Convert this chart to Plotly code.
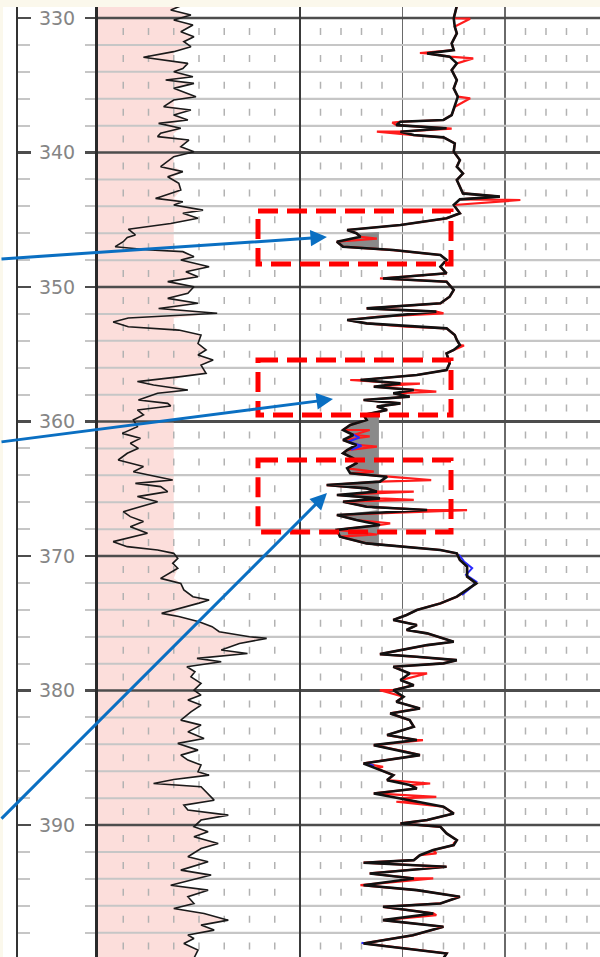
import numpy as np
import plotly.graph_objects as go

# ---------------- data ----------------
gr_depth = [329.1, 329.40, 329.78, 330.15, 330.52, 331.02, 331.39, 331.76, 332.13, 332.50, 332.92, 333.25,
            333.37, 333.75, 334.00, 334.36, 334.61, 334.86, 335.23, 335.85, 336.10, 336.59, 336.84, 337.21,
            337.58, 337.83, 338.20, 338.57, 338.82, 339.07, 339.57, 339.94, 340.31, 341.05, 341.42, 341.80,
            342.29, 342.79, 343.41, 343.66, 343.90, 344.28, 344.52, 344.89, 345.27, 345.70, 346.13, 346.31,
            346.63, 347.00, 347.25, 347.37, 347.74, 347.99, 348.49, 348.86, 349.23, 349.60, 349.98, 350.47,
            350.84, 351.20, 351.60, 351.95, 352.30, 352.60, 352.95, 353.20, 353.57, 354.20, 354.68, 355.05,
            355.42, 355.80, 356.42, 356.66, 357.03, 357.28, 357.65, 357.90, 358.40, 358.65, 358.84, 359.14,
            359.51, 359.88, 360.38, 360.88, 361.25, 361.62, 361.99, 362.36, 362.86, 363.35, 363.73, 364.35,
            364.60, 364.84, 365.21, 365.58, 365.96, 366.70, 367.07, 367.44, 367.82, 368.31, 368.68, 368.93,
            369.30, 369.55, 369.80, 370.17, 370.54, 370.91, 371.66, 372.03, 372.52, 373.02, 373.27, 373.50,
            374.26, 374.50, 374.88, 375.25, 375.63, 376.00, 376.12, 376.50, 376.99, 377.24, 377.61, 377.86,
            378.23, 378.60, 378.98, 379.47, 379.97, 380.34, 380.71, 381.08, 381.58, 382.20, 382.57, 383.07,
            383.56, 383.93, 384.43, 384.80, 385.17, 385.54, 386.04, 386.29, 386.61, 386.91, 387.15, 387.65,
            388.15, 388.52, 388.89, 389.26, 389.63, 390.13, 390.50, 390.87, 391.37, 391.74, 392.36, 392.73,
            393.35, 393.72, 394.09, 394.47, 394.84, 395.33, 395.83, 396.20, 396.57, 397.07, 397.44, 397.81,
            398.18, 398.43, 398.80, 399.30, 399.90]
gr_value = [82, 72, 92, 75, 94, 82, 95, 85, 92, 75, 45, 75,
            89, 84, 75, 94, 67, 95, 75, 97, 75, 65, 92, 75,
            89, 60, 82, 62, 59, 90, 82, 95, 75, 62, 84, 69,
            80, 82, 57, 84, 75, 104, 84, 99, 72, 30, 37, 29,
            25, 17, 52, 84, 95, 82, 110, 87, 99, 69, 95, 89,
            69, 99, 60, 118, 30, 15, 30, 80, 102, 99, 107, 99,
            114, 102, 107, 82, 39, 55, 89, 59, 40, 69, 72, 39,
            45, 35, 39, 24, 42, 32, 40, 29, 20, 45, 35, 74,
            37, 62, 69, 39, 59, 25, 32, 45, 32, 49, 29, 15,
            29, 59, 75, 79, 74, 79, 62, 82, 85, 94, 110, 100,
            63, 80, 100, 113, 120, 150, 167, 140, 122, 148, 98, 122,
            88, 96, 92, 102, 95, 102, 89, 102, 92, 82, 102, 89,
            105, 79, 99, 82, 89, 102, 99, 110, 75, 55, 102, 109,
            115, 85, 89, 129, 102, 95, 109, 95, 119, 102, 89, 109,
            82, 112, 92, 72, 109, 89, 95, 75, 105, 129, 102, 115,
            89, 95, 85, 99, 95]
gr_cutoff = 75

log_depth = [329.10, 330.02, 330.64, 331.14, 331.88, 332.38, 332.63, 332.87, 333.37, 333.87, 334.61, 335.23,
             335.85, 336.59, 337.21, 337.58, 337.71, 337.96, 338.20, 338.45, 338.70, 338.87, 339.32, 339.94,
             340.56, 341.05, 341.55, 342.04, 342.54, 343.04, 343.28, 343.48, 343.90, 344.52, 344.89, 345.39,
             345.76, 346.00, 346.26, 346.63, 347.00, 347.25, 347.62, 347.99, 348.49, 348.98, 349.36, 349.60,
             350.22, 350.72, 351.21, 351.59, 351.83, 352.21, 352.45, 352.70, 353.07, 353.57, 353.94, 354.31,
             354.68, 354.93, 355.67, 356.17, 356.54, 356.91, 357.16, 357.41, 357.65, 357.90, 358.15, 358.40,
             358.65, 358.89, 359.14, 359.51, 359.88, 360.26, 360.63, 361.00, 361.37, 361.74, 362.12, 362.36,
             362.73, 363.10, 363.48, 363.85, 364.10, 364.47, 364.72, 364.97, 365.21, 365.46, 365.71, 365.96,
             366.33, 366.58, 366.95, 367.32, 367.69, 368.06, 368.56, 369.06, 369.55, 369.80, 370.29, 370.79,
             371.53, 372.03, 372.52, 373.02, 373.52, 374.01, 374.38, 374.75, 375.13, 375.50, 375.75, 376.12,
             376.37, 376.62, 376.99, 377.29, 377.49, 377.74, 377.98, 378.23, 378.73, 379.22, 379.60, 379.97,
             380.46, 380.83, 381.33, 381.70, 382.20, 382.69, 383.31, 383.68, 384.06, 384.55, 384.80, 385.42,
             385.79, 386.29, 386.66, 387.03, 387.28, 387.65, 388.02, 388.27, 388.64, 389.14, 389.63, 389.88,
             390.13, 390.62, 391.12, 391.49, 391.86, 392.24, 392.61, 392.80, 393.10, 393.60, 393.97, 394.47,
             394.84, 395.33, 395.83, 396.08, 396.57, 397.07, 397.56, 398.20, 398.80, 399.55, 399.90]
log_value = [153, 150, 151, 153, 148, 150, 124, 146, 153, 148, 153, 150,
             154, 151, 148, 140, 98, 94, 143, 98, 111, 140, 151, 150,
             156, 153, 159, 153, 156, 159, 195, 156, 150, 156, 143, 98,
             46, 55, 59, 36, 42, 91, 137, 143, 137, 143, 81, 143,
             150, 146, 137, 65, 133, 75, 46, 65, 143, 151, 153, 156,
             150, 143, 146, 143, 114, 59, 98, 72, 111, 91, 107, 62,
             98, 75, 85, 62, 65, 49, 42, 52, 42, 55, 46, 42,
             52, 55, 46, 49, 85, 78, 26, 65, 75, 36, 78, 42,
             65, 124, 36, 55, 78, 36, 39, 65, 137, 153, 156, 163,
             163, 172, 163, 153, 137, 114, 104, 91, 114, 104, 124, 140,
             150, 124, 98, 78, 114, 153, 140, 91, 107, 98, 111, 91,
             101, 94, 117, 88, 107, 111, 85, 114, 72, 104, 117, 62,
             75, 91, 85, 107, 114, 72, 98, 114, 140, 150, 124, 98,
             137, 143, 153, 150, 130, 117, 111, 62, 143, 68, 111, 62,
             114, 156, 137, 81, 130, 81, 140, 110, 62, 143, 140]

red_spike_depth = [330.05, 332.60, 333.00, 335.97, 337.78, 338.22, 338.45, 343.53, 346.40, 349.36, 351.96,
                   352.95, 354.35, 356.91, 357.18, 357.77, 360.63, 361.10, 361.87, 363.73, 364.35, 365.21,
                   365.83, 366.58, 367.57, 368.40, 378.73, 379.97, 383.68, 385.67, 386.91, 387.90, 388.27,
                   391.37, 392.11, 393.97, 394.47, 396.70]
red_spike_value = [166, 117, 169, 166, 90, 148, 75, 215, 75, 78, 140,
                   104, 160, 49, 117, 133, 68, 68, 75, 72, 128, 111,
                   111, 163, 88, 75, 124, 78, 120, 81, 127, 133, 94,
                   150, 133, 130, 59, 133]

blue_depth = [360.9, 361.2, 361.5, 361.8, 362.1, None,
              369.9, 370.4, 370.9, 371.4, 371.9, 372.4, 372.9, None,
              385.4, 385.6, None, 398.75, 398.85]
blue_value = [50, 58, 47, 60, 50, None,
              155, 160, 168, 162, 172, 166, 158, None,
              66, 72, None, 60, 66]

pay_top = [345.9, 359.4]
pay_base = [347.15, 369.3]
pay_cutoff = 77

depth_major = [330, 340, 350, 360, 370, 380, 390]
depth_minor = [d for d in range(330, 400, 2) if d % 10 != 0]
track1_grid = [25, 50, 75, 100, 125, 150, 175]
track2_minor = [20, 40, 60, 80, 120, 140, 160, 180, 220, 240, 260, 280]

arrow_depth = [346.28, 358.33, 365.32]
arrow_value = [26.3, 32.2, 26.3]

box_top = [344.35, 355.43, 362.86]
box_base = [348.29, 359.52, 368.22]

# ---------------- styling constants ----------------
Y_TOP, Y_BOT = 329.18, 399.81
PINK = "#fcdedb"
MAJ = "#4d4d4d"
MIN = "#c6c6c6"
DASHC = "#b2b2b2"
DASH = "7px,19.9px"
CREAM = "#fbf8ec"

fig = go.Figure()

def seg_h(vals, x0, x1):
    xs, ys = [], []
    for v in vals:
        xs += [x0, x1, None]
        ys += [v, v, None]
    return xs, ys

def seg_v(vals, y0, y1):
    xs, ys = [], []
    for v in vals:
        xs += [v, v, None]
        ys += [y0, y1, None]
    return xs, ys

# --- track 1: pink shading to max(GR, cutoff)
pink_x = np.maximum(np.array(gr_value, dtype=float), gr_cutoff)
fig.add_trace(go.Scatter(x=pink_x, y=gr_depth, mode="lines", fill="tozerox", fillcolor=PINK,
                         line=dict(width=0), xaxis="x", yaxis="y", hoverinfo="skip", showlegend=False))

# --- grid lines drawn as traces (over the shading)
for axis, xmax, vlist in [("x", 200, track1_grid), ("x2", 292.7, track2_minor)]:
    xs, ys = seg_h(depth_minor, 0, xmax)
    fig.add_trace(go.Scatter(x=xs, y=ys, mode="lines", line=dict(color=MIN, width=2),
                             xaxis=axis, yaxis="y", hoverinfo="skip", showlegend=False))
    xs, ys = seg_v(vlist, 330.74, Y_BOT)
    fig.add_trace(go.Scatter(x=xs, y=ys, mode="lines", line=dict(color=DASHC, width=1.5, dash=DASH),
                             xaxis=axis, yaxis="y", hoverinfo="skip", showlegend=False))
    xs, ys = seg_h(depth_major, 0, xmax)
    fig.add_trace(go.Scatter(x=xs, y=ys, mode="lines", line=dict(color=MAJ, width=2.5),
                             xaxis=axis, yaxis="y", hoverinfo="skip", showlegend=False))

# --- GR curve
fig.add_trace(go.Scatter(x=gr_value, y=gr_depth, mode="lines", line=dict(color="#1a1a1a", width=1.6),
                         xaxis="x", yaxis="y", hoverinfo="skip", showlegend=False))

# --- grey pay shading in track 2
for top, base in zip(pay_top, pay_base):
    idx = [i for i, d in enumerate(log_depth) if top <= d <= base]
    xs = [pay_cutoff] + [min(log_value[i], pay_cutoff) for i in idx] + [pay_cutoff]
    ys = [top] + [log_depth[i] for i in idx] + [base]
    fig.add_trace(go.Scatter(x=xs, y=ys, mode="lines", fill="toself", fillcolor="#8a8a8a",
                             line=dict(width=0), xaxis="x2", yaxis="y", hoverinfo="skip", showlegend=False))

# --- red curve (black curve points plus its own spikes)
red_pairs = sorted(zip(log_depth + red_spike_depth, log_value + red_spike_value), key=lambda p: p[0])
fig.add_trace(go.Scatter(x=[p[1] for p in red_pairs], y=[p[0] for p in red_pairs], mode="lines",
                         line=dict(color="#ff1c1c", width=2.2), xaxis="x2", yaxis="y",
                         hoverinfo="skip", showlegend=False))
fig.add_trace(go.Scatter(x=blue_value, y=blue_depth, mode="lines", line=dict(color="#2a2aff", width=2),
                         xaxis="x2", yaxis="y", hoverinfo="skip", showlegend=False, connectgaps=False))
fig.add_trace(go.Scatter(x=log_value, y=log_depth, mode="lines", line=dict(color="#111111", width=2.6),
                         xaxis="x2", yaxis="y", hoverinfo="skip", showlegend=False))

# --- dummy trace for depth track subplot
fig.add_trace(go.Scatter(x=[None], y=[None], mode="lines", xaxis="x3", yaxis="y2",
                         hoverinfo="skip", showlegend=False))

# --- red dashed boxes
shapes = [dict(type="rect", xref="paper", yref="paper", x0=3 / 600, x1=1, y0=0, y1=950 / 957,
               fillcolor="white", line=dict(width=0), layer="below"),
          dict(type="line", xref="x2 domain", yref="y domain", x0=0, x1=0, y0=0, y1=1,
               line=dict(color="#3a3a3a", width=2), layer="above")]
for t, b in zip(box_top, box_base):
    shapes.append(dict(type="rect", xref="paper", yref="y", x0=258 / 600, x1=451 / 600, y0=t, y1=b,
                       line=dict(color="#ff0000", width=5, dash="20px,9px"),
                       fillcolor="rgba(0,0,0,0)", layer="above"))

# --- blue arrows
tails = [(-337, 22), (-343, 43), (-337, 327)]
annotations = []
for d, v, (ax, ay) in zip(arrow_depth, arrow_value, tails):
    annotations.append(dict(x=v, y=d, xref="x2", yref="y", ax=ax, ay=ay, axref="pixel", ayref="pixel",
                            text="", showarrow=True, arrowhead=2, arrowsize=1.1, arrowwidth=3,
                            arrowcolor="#0a6fc2", standoff=0))

fig.update_layout(
    width=600, height=957,
    margin=dict(l=0, r=0, t=0, b=0),
    paper_bgcolor=CREAM,
    plot_bgcolor="white",
    showlegend=False,
    hovermode=False,
    shapes=shapes,
    annotations=annotations,
    xaxis=dict(domain=[98 / 600, 0.5], range=[0, 200], anchor="y", showgrid=False, zeroline=False,
               showticklabels=False, ticks="", showline=False, fixedrange=True),
    xaxis2=dict(domain=[0.5, 1], range=[0, 292.7], anchor="y", showgrid=True, dtick=100, tick0=0,
                gridcolor="#6a6a6a", gridwidth=1.8, zeroline=False, showticklabels=False, ticks="",
                showline=False),
    xaxis3=dict(domain=[18 / 600, 98 / 600], range=[0, 1], anchor="y2", visible=False),
    yaxis=dict(domain=[0, 950 / 957], range=[Y_BOT, Y_TOP], anchor="x", side="left",
               showline=True, linecolor="#2a2a2a", linewidth=3,
               ticks="outside", ticklen=10, tickwidth=2.5, tickcolor=MAJ,
               tick0=330, dtick=10, showgrid=True, gridcolor=MAJ, gridwidth=2.5, zeroline=False,
               tickfont=dict(family="DejaVu Sans", size=19, color="#858585"), ticklabelstandoff=6,
               minor=dict(tick0=330, dtick=2, ticks="outside", ticklen=10, tickwidth=2, tickcolor=MIN,
                          showgrid=True, gridcolor=MIN, gridwidth=2)),
    yaxis2=dict(domain=[0, 950 / 957], range=[Y_BOT, Y_TOP], anchor="x3", side="left",
                showline=True, linecolor="#333333", linewidth=2,
                ticks="inside", ticklen=13, tickwidth=2.5, tickcolor=MAJ, tick0=330, dtick=10,
                showticklabels=False, showgrid=False, zeroline=False,
                minor=dict(tick0=330, dtick=2, ticks="inside", ticklen=12, tickwidth=2, tickcolor=MIN,
                           showgrid=False)),
)

fig.write_html("out.html",
               config={"displayModeBar": False, "staticPlot": True},
               post_script="document.body.style.margin='0';document.body.style.padding='0';"
                           "document.body.style.background='" + CREAM + "';"
                           "document.body.style.overflow='hidden';")
